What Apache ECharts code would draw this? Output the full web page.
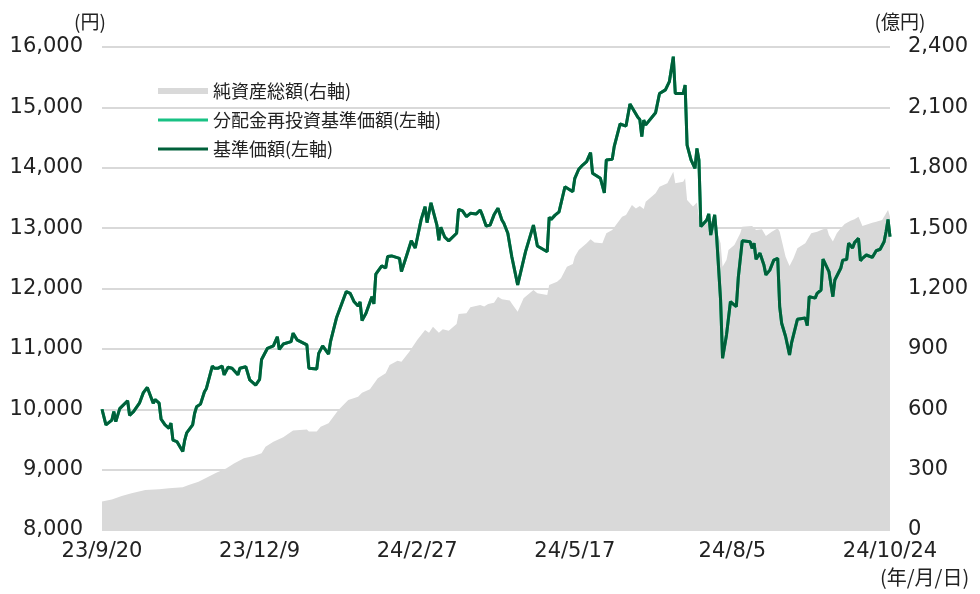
<!DOCTYPE html>
<html>
<head>
<meta charset="utf-8">
<script src="https://cdn.jsdelivr.net/npm/echarts@6/dist/echarts.min.js"></script>
<style>
  html, body { margin: 0; padding: 0; background: #fff; }
  #chart { width: 980px; height: 594px; }
</style>
</head>
<body>
<div id="chart"></div>
<script>
// x positions are days counted from 2023/9/20
var startDate = new Date(2023, 8, 20);
var xTickDays = [0, 80, 160, 240, 320, 400];

// 基準価額 (円)
var navDays = [0, 2, 5, 6, 7, 9, 10, 13, 14, 16, 19, 21, 23, 26, 27, 29, 30, 32, 34, 35,
    36, 38, 39, 41, 42, 43, 46, 47, 48, 50, 52, 53, 56, 57, 59, 61, 62, 64, 66, 67,
    69, 70, 73, 75, 78, 80, 81, 84, 87, 89, 90, 92, 96, 97, 99, 104, 105, 109, 110, 112,
    115, 116, 117, 119, 124, 126, 128, 130, 131, 132, 134, 137, 138, 139, 142, 144, 145, 147, 151, 152,
    155, 157, 159, 162, 164, 165, 167, 170, 171, 172, 174, 176, 180, 181, 183, 185, 187, 190, 192, 193,
    195, 197, 199, 201, 203, 204, 206, 208, 211, 215, 219, 221, 226, 227, 228, 230, 232, 235, 237, 239,
    240, 242, 244, 246, 248, 249, 253, 255, 256, 259, 260, 263, 266, 268, 272, 273, 274, 275, 276, 281,
    283, 286, 288, 290, 291, 295, 296, 297, 299, 301, 302, 303, 304, 307, 308, 309, 311, 312, 314, 315,
    317, 318, 319, 322, 323, 324, 325, 329, 330, 331, 332, 334, 335, 336, 337, 339, 341, 343, 344, 345,
    347, 349, 350, 353, 357, 358, 359, 362, 363, 365, 366, 369, 371, 372, 375, 376, 378, 379, 381, 382,
    384, 385, 386, 388, 391, 393, 395, 397, 398, 399, 400];
var navValues = [10000, 9740, 9820, 9960, 9795, 10010, 10040, 10140, 9900, 9960, 10100, 10275, 10360, 10100, 10160, 10100, 9835, 9740, 9685, 9770,
    9490, 9465, 9465, 9300, 9490, 9610, 9740, 9930, 10040, 10085, 10290, 10345, 10715, 10680, 10680, 10715, 10570, 10695, 10680, 10650,
    10570, 10680, 10705, 10485, 10400, 10495, 10825, 11010, 11050, 11200, 10990, 11080, 11120, 11260, 11150, 11065, 10680, 10665, 10925, 11050,
    10915, 11120, 11150, 11510, 11950, 11920, 11780, 11710, 11780, 11470, 11590, 11865, 11745, 12240, 12375, 12340, 12530, 12540, 12500, 12280,
    12585, 12790, 12670, 13140, 13355, 13090, 13420, 13050, 12800, 13015, 12850, 12790, 12915, 13310, 13285, 13190, 13245, 13235, 13300, 13220,
    13035, 13050, 13220, 13330, 13135, 13080, 12915, 12530, 12060, 12610, 13050, 12705, 12610, 13180, 13145, 13215, 13270, 13685, 13645, 13605,
    13825, 13975, 14045, 14100, 14250, 13910, 13825, 13585, 14130, 14140, 14350, 14725, 14690, 15055, 14835, 14800, 14515, 14790, 14710, 14910,
    15230, 15290, 15425, 15840, 15230, 15230, 15370, 14375, 14130, 13990, 14320, 14130, 13025, 13135, 13235, 12885, 13220, 12860, 11810, 10845,
    11230, 11230, 11780, 11700, 12185, 12185, 12790, 12775, 12665, 12750, 12485, 12585, 12610, 12390, 12225, 12305, 12470, 12500, 11700, 11425,
    11205, 10900, 11095, 11490, 11510, 11385, 11865, 11840, 11920, 11975, 12485, 12280, 11865, 12140, 12335, 12470, 12480, 12750, 12670, 12760,
    12830, 12460, 12500, 12555, 12515, 12625, 12650, 12775, 12940, 13145, 12860];

// 純資産総額 (億円)
var aumDays = [0, 5, 10, 15, 22, 29, 34, 41, 44, 49, 54, 58, 63, 67, 72, 77, 81, 83, 87, 92,
    97, 104, 105, 109, 111, 115, 120, 125, 130, 132, 136, 140, 144, 146, 150, 152, 156, 160, 164, 166,
    168, 171, 173, 176, 180, 181, 185, 187, 192, 194, 196, 199, 201, 203, 207, 208, 211, 214, 219, 221,
    226, 227, 231, 233, 236, 239, 240, 242, 246, 248, 250, 254, 256, 259, 264, 266, 269, 271, 273, 275,
    276, 281, 283, 287, 290, 291, 295, 296, 297, 300, 302, 303, 304, 308, 311, 312, 314, 315, 317, 318,
    321, 324, 325, 330, 332, 335, 337, 340, 343, 344, 347, 349, 351, 353, 357, 358, 360, 363, 366, 368,
    369, 371, 373, 375, 377, 380, 382, 384, 386, 387, 391, 393, 396, 397, 399, 400];
var aumValues = [141, 152, 169, 182, 199, 202, 207, 212, 224, 240, 265, 285, 306, 331, 356, 368, 381, 414, 439, 461,
    494, 500, 489, 489, 513, 530, 596, 646, 662, 682, 699, 754, 779, 820, 841, 836, 886, 944, 994, 980,
    1010, 980, 997, 990, 1024, 1073, 1077, 1107, 1118, 1110, 1123, 1129, 1159, 1146, 1140, 1126, 1085, 1151, 1193, 1176,
    1168, 1217, 1234, 1251, 1308, 1322, 1358, 1391, 1425, 1445, 1428, 1425, 1474, 1491, 1557, 1565, 1615, 1598, 1610, 1595,
    1631, 1673, 1706, 1723, 1780, 1723, 1731, 1748, 1640, 1607, 1627, 1557, 1507, 1540, 1532, 1491, 1425, 1308, 1342, 1391,
    1416, 1474, 1507, 1511, 1491, 1494, 1461, 1482, 1499, 1482, 1358, 1312, 1350, 1400, 1425, 1433, 1474, 1482, 1494, 1499,
    1466, 1433, 1474, 1499, 1520, 1537, 1544, 1557, 1511, 1520, 1527, 1532, 1540, 1549, 1590, 1557];

function pairs(xs, ys) {
    var out = [];
    for (var i = 0; i < xs.length; i++) out.push([xs[i], ys[i]]);
    return out;
}

function dayLabel(d) {
    var dt = new Date(startDate.getTime());
    dt.setDate(dt.getDate() + Math.round(d));
    return String(dt.getFullYear()).slice(2) + "/" + (dt.getMonth() + 1) + "/" + dt.getDate();
}

var numFont = "DejaVu Sans";
var jpFont = "Noto Sans CJK JP";
var lineIcon = "path://M0,0 L50,0 L50,3 L0,3 Z";

var option = {
    animation: false,
    grid: { left: 102, right: 90, top: 47, bottom: 64 },
    legend: {
        orient: "vertical",
        left: 153,
        top: 77,
        itemWidth: 50,
        itemHeight: 6,
        itemGap: 11,
        textStyle: { fontFamily: jpFont, fontSize: 18, color: "#222" },
        data: [
            { name: "純資産総額(右軸)", icon: "rect" },
            { name: "分配金再投資基準価額(左軸)", icon: lineIcon },
            { name: "基準価額(左軸)", icon: lineIcon }
        ]
    },
    xAxis: {
        type: "value",
        min: 0,
        max: 400,
        interval: 80,
        axisLine: { show: false },
        axisTick: { show: false },
        splitLine: { show: false },
        axisLabel: {
            fontFamily: numFont,
            fontSize: 21,
            color: "#222",
            margin: 11,
            formatter: function (v) { return xTickDays.indexOf(v) >= 0 ? dayLabel(v) : ""; }
        }
    },
    yAxis: [
        {
            type: "value",
            min: 8000,
            max: 16000,
            interval: 1000,
            name: "(円)",
            nameLocation: "end",
            nameGap: 16,
            nameTextStyle: { fontFamily: jpFont, fontSize: 19, color: "#222", padding: [0, 24, 0, 0] },
            axisLine: { show: false },
            axisTick: { show: false },
            splitLine: { lineStyle: { color: "#d9d9d9", width: 2 } },
            axisLabel: {
                fontFamily: numFont,
                fontSize: 21,
                color: "#222",
                margin: 19,
                formatter: function (v) { return v.toLocaleString("en-US"); }
            }
        },
        {
            type: "value",
            min: 0,
            max: 2400,
            interval: 300,
            name: "(億円)",
            nameLocation: "end",
            nameGap: 16,
            nameTextStyle: { fontFamily: jpFont, fontSize: 19, color: "#222", padding: [0, 0, 0, 20] },
            axisLine: { show: false },
            axisTick: { show: false },
            splitLine: { show: false },
            axisLabel: {
                fontFamily: numFont,
                fontSize: 21,
                color: "#222",
                margin: 18,
                formatter: function (v) { return v.toLocaleString("en-US"); }
            }
        }
    ],
    graphic: [
        {
            type: "text",
            left: 880,
            top: 567,
            style: { text: "(年/月/日)", fontFamily: jpFont, fontSize: 20, fill: "#222" }
        }
    ],
    series: [
        {
            name: "純資産総額(右軸)",
            type: "line",
            yAxisIndex: 1,
            data: pairs(aumDays, aumValues),
            symbol: "none",
            lineStyle: { width: 0 },
            itemStyle: { color: "#d9d9d9" },
            areaStyle: { color: "#d9d9d9", opacity: 1 },
            z: 1
        },
        {
            name: "分配金再投資基準価額(左軸)",
            type: "line",
            yAxisIndex: 0,
            data: pairs(navDays, navValues),
            symbol: "none",
            lineStyle: { width: 3, color: "#19c184" },
            itemStyle: { color: "#19c184" },
            z: 2
        },
        {
            name: "基準価額(左軸)",
            type: "line",
            yAxisIndex: 0,
            data: pairs(navDays, navValues),
            symbol: "none",
            lineStyle: { width: 3, color: "#00603a" },
            itemStyle: { color: "#00603a" },
            z: 3
        }
    ]
};

var myChart = echarts.init(document.getElementById("chart"));
myChart.setOption(option);
</script>
</body>
</html>
